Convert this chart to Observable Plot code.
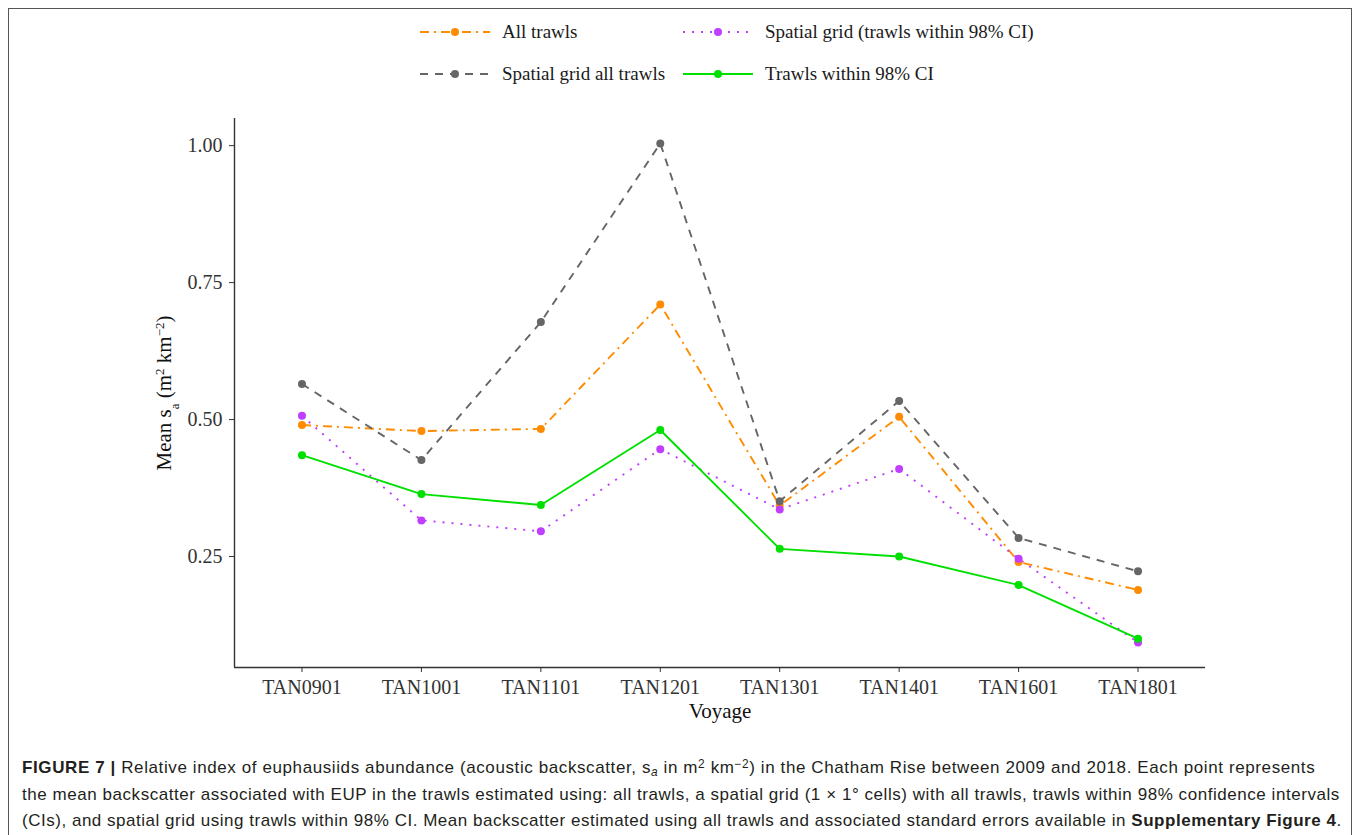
<!DOCTYPE html>
<html>
<head>
<meta charset="utf-8">
<script src="https://cdn.jsdelivr.net/npm/d3@7"></script>
<script src="https://cdn.jsdelivr.net/npm/@observablehq/plot@0.6"></script>
<style>
  html, body { margin: 0; padding: 0; background: #fff; overflow: hidden; }
  #page { position: relative; width: 1358px; height: 835px; }
  #frame { position: absolute; left: 8px; top: 8px; width: 1344px; height: 900px; border: 1.5px solid #555; box-sizing: border-box; }
  #legend { position: absolute; left: 0; top: 0; width: 1358px; height: 100px; font-family: "Liberation Serif", "Times New Roman", serif; font-size: 19px; color: #1a1a1a; }
  .item { position: absolute; display: flex; align-items: center; height: 24px; }
  .item svg { display: block; margin-right: 12px; }
  #chart { position: absolute; left: 0; top: 95px; }
  #caption { position: absolute; left: 22px; top: 755px; font-family: "Liberation Sans", Arial, sans-serif; font-size: 17px; letter-spacing: 0.6px; line-height: 26.5px; color: #231f20; white-space: nowrap; }
  #caption .l2 { letter-spacing: 0.55px; }
  #caption .l3 { letter-spacing: 0.52px; }
  #caption b { font-weight: bold; }
  #caption sup { font-size: 70%; vertical-align: 0.45em; line-height: 0; }
  #caption sub { font-size: 70%; vertical-align: -0.25em; line-height: 0; }
</style>
</head>
<body>
<div id="page">
  <div id="frame"></div>
  <div id="legend"></div>
  <div id="chart"></div>
  <div id="caption">
    <div><b>FIGURE 7 |</b> Relative index of euphausiids abundance (acoustic backscatter, s<sub><i>a</i></sub> in m<sup>2</sup> km<sup>−2</sup>) in the Chatham Rise between 2009 and 2018. Each point represents</div>
    <div class="l2">the mean backscatter associated with EUP in the trawls estimated using: all trawls, a spatial grid (1 × 1° cells) with all trawls, trawls within 98% confidence intervals</div>
    <div class="l3">(CIs), and spatial grid using trawls within 98% CI. Mean backscatter estimated using all trawls and associated standard errors available in <b>Supplementary Figure 4</b>.</div>
  </div>
</div>
<script>
// Survey voyages on the Chatham Rise
const voyages = ["TAN0901", "TAN1001", "TAN1101", "TAN1201", "TAN1301", "TAN1401", "TAN1601", "TAN1801"];

// Mean backscatter s_a (m^2 km^-2) per estimation method
const allTrawls = [0.490, 0.479, 0.483, 0.710, 0.343, 0.505, 0.240, 0.189];
const gridCI    = [0.507, 0.316, 0.296, 0.446, 0.336, 0.410, 0.246, 0.093];
const gridAll   = [0.565, 0.426, 0.678, 1.004, 0.351, 0.534, 0.284, 0.223];
const trawlsCI  = [0.435, 0.364, 0.344, 0.481, 0.264, 0.250, 0.198, 0.100];

const yTicks = [0.25, 0.50, 0.75, 1.00];

// Drawing styles for each method
const series = [
  {name: "All trawls", values: allTrawls, color: "#ff8c00", dash: "9,5,2,5"},
  {name: "Spatial grid (trawls within 98% CI)", values: gridCI, color: "#bf3eff", dash: "2,7"},
  {name: "Spatial grid all trawls", values: gridAll, color: "#666666", dash: "8,7"},
  {name: "Trawls within 98% CI", values: trawlsCI, color: "#00e000", dash: null}
];

// Long-format table built from the arrays above
const rows = series.flatMap(s => s.values.map((v, i) => ({series: s.name, i, voyage: voyages[i], value: v})));

// ggplot-style expansion: 5% on the continuous axis, 0.565 steps on the discrete one
const allVals = rows.map(d => d.value);
const [vmin, vmax] = d3.extent(allVals);
const pad = (vmax - vmin) * 0.05;
const yDomain = [vmin - pad, vmax + pad];
const xDomain = [-0.565, voyages.length - 1 + 0.565];

const lineMarks = series.map(s => Plot.line(rows.filter(d => d.series === s.name), {
  x: "i", y: "value", stroke: s.color, strokeWidth: 1.9,
  strokeDasharray: s.dash || undefined, strokeLinecap: "butt"
}));
const dotMarks = series.map(s => Plot.dot(rows.filter(d => d.series === s.name), {
  x: "i", y: "value", r: 4, fill: s.color, stroke: "none"
}));

const chart = Plot.plot({
  width: 1358,
  height: 640,
  marginLeft: 234,
  marginRight: 153,
  marginTop: 23,
  marginBottom: 68,
  style: {fontFamily: "'Liberation Serif', 'Times New Roman', serif", fontSize: "20px", color: "#333", background: "transparent"},
  x: {type: "linear", domain: xDomain},
  y: {domain: yDomain},
  marks: [
    Plot.axisX({ticks: d3.range(voyages.length), tickFormat: i => voyages[i], tickSize: 5, tickPadding: 7,
      fontSize: 20, label: "Voyage", labelAnchor: "center", labelOffset: 50, labelArrow: "none", stroke: "#333"}),
    Plot.axisY({ticks: yTicks, tickFormat: d3.format(".2f"), tickSize: 5, tickPadding: 7,
      fontSize: 20, label: "Mean sa (m2 km-2)", labelAnchor: "center", labelOffset: 78, labelArrow: "none", stroke: "#333"}),
    Plot.ruleY([yDomain[0]], {stroke: "#333", strokeWidth: 1.4}),
    Plot.ruleX([xDomain[0]], {stroke: "#333", strokeWidth: 1.4}),
    ...lineMarks,
    ...dotMarks
  ]
});
document.getElementById("chart").appendChild(chart);

// Y axis title with subscript and superscripts
const yLabel = chart.querySelector('g[aria-label="y-axis label"] text');
if (yLabel) {
  yLabel.textContent = "";
  yLabel.setAttribute("font-size", "21");
  yLabel.setAttribute("fill", "#111");
  const parts = [["Mean s", null], ["a", "sub"], [" (m", null], ["2", "super"], [" km", null], ["−2", "super"], [")", null]];
  for (const [t, shift] of parts) {
    const ts = document.createElementNS("http://www.w3.org/2000/svg", "tspan");
    ts.textContent = t;
    if (shift) { ts.setAttribute("baseline-shift", shift); ts.setAttribute("font-size", "13"); }
    yLabel.appendChild(ts);
  }
}
const xLabel = chart.querySelector('g[aria-label="x-axis label"] text');
if (xLabel) { xLabel.setAttribute("font-size", "21"); xLabel.setAttribute("fill", "#111"); }

// Legend: two rows, two columns above the panel
const legend = d3.select("#legend");
const legendPos = [
  {left: 420, top: 20}, {left: 683, top: 20},
  {left: 420, top: 62}, {left: 683, top: 62}
];
series.forEach((s, k) => {
  const item = legend.append("div").attr("class", "item")
    .style("left", legendPos[k].left + "px").style("top", legendPos[k].top + "px");
  const key = item.append("svg").attr("width", 70).attr("height", 14);
  key.append("line").attr("x1", 0).attr("x2", 70).attr("y1", 7).attr("y2", 7)
    .attr("stroke", s.color).attr("stroke-width", 1.9)
    .attr("stroke-dasharray", s.dash);
  key.append("circle").attr("cx", 35).attr("cy", 7).attr("r", 4).attr("fill", s.color);
  item.append("span").text(s.name);
});
</script>
</body>
</html>
